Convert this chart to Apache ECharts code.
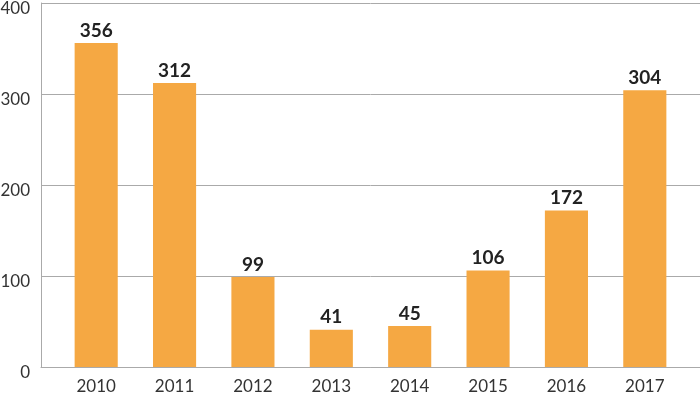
<!DOCTYPE html>
<html>
<head>
<meta charset="utf-8">
<script src="https://cdn.jsdelivr.net/npm/echarts@6/dist/echarts.min.js"></script>
<style>
  html, body { margin: 0; padding: 0; background: #fff; }
  #chart { width: 700px; height: 399px; }
</style>
</head>
<body>
<div id="chart"></div>
<script>
const years = ['2010', '2011', '2012', '2013', '2014', '2015', '2016', '2017']
const counts = [356, 312, 99, 41, 45, 106, 172, 304]
const yTicks = [0, 100, 200, 300, 400]

const font = 'Lato, "Noto Sans", sans-serif'
const chart = echarts.init(document.getElementById('chart'))

chart.setOption({
  animation: false,
  grid: [
    { left: 41, right: 0, top: 3, bottom: 32, outerBoundsMode: 'none', containLabel: false },
    { left: 57, right: 16, top: 3, bottom: 32, outerBoundsMode: 'none', containLabel: false },
  ],
  xAxis: [
    {
      gridIndex: 0,
      type: 'category',
      data: [''],
      axisLine: { lineStyle: { color: '#aaaaaa', width: 1 } },
      axisTick: { show: false },
      axisLabel: { show: false },
    },
    {
      gridIndex: 1,
      type: 'category',
      data: years,
      axisLine: { show: false },
      axisTick: { show: false },
      axisLabel: {
        color: '#333',
        fontFamily: font,
        fontSize: 17,
        margin: 11,
      },
    },
  ],
  yAxis: [
    {
      gridIndex: 0,
      type: 'value',
      min: yTicks[0],
      max: yTicks[yTicks.length - 1],
      interval: 100,
      axisLine: { show: true, lineStyle: { color: '#aaaaaa', width: 1 } },
      axisTick: { show: false },
      splitLine: { lineStyle: { color: '#aaaaaa', width: 1 } },
      axisLabel: {
        color: '#333',
        fontFamily: font,
        fontSize: 17,
        margin: 11,
        verticalAlign: 'top',
        lineHeight: 12,
      },
    },
    {
      gridIndex: 1,
      type: 'value',
      min: yTicks[0],
      max: yTicks[yTicks.length - 1],
      show: false,
      splitLine: { show: false },
    },
  ],
  series: [
    {
      type: 'bar',
      xAxisIndex: 1,
      yAxisIndex: 1,
      data: counts,
      barWidth: '55%',
      itemStyle: { color: '#f5a843' },
      label: {
        show: true,
        position: 'top',
        distance: 3,
        color: '#222',
        fontFamily: font,
        fontWeight: 'bold',
        fontSize: 19,
      },
    },
  ],
})
</script>
</body>
</html>
